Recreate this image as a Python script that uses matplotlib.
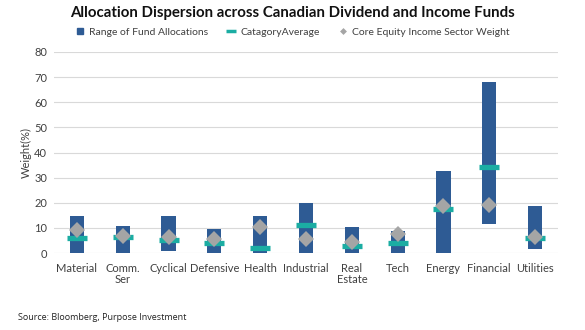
import matplotlib
matplotlib.use("Agg")
import matplotlib.pyplot as plt
from matplotlib.lines import Line2D
import numpy as np

categories = ["Material", "Comm.\nSer", "Cyclical", "Defensive", "Health", "Industrial",
              "Real\nEstate", "Tech", "Energy", "Financial", "Utilities"]
range_low = [0.0, 0.0, 0.7, 0.0, 0.0, 0.0, 0.0, 0.0, 0.0, 11.7, 1.7]
range_high = [14.8, 10.6, 14.8, 9.7, 14.8, 20.0, 10.3, 8.9, 32.8, 68.0, 18.6]
category_avg = [6.0, 6.3, 5.3, 4.0, 2.1, 11.0, 2.9, 4.0, 17.4, 34.1, 6.0]
core_weight = [9.0, 6.8, 6.2, 5.6, 10.3, 5.7, 4.4, 7.7, 18.6, 19.0, 6.2]
yticks = [0, 10, 20, 30, 40, 50, 60, 70, 80]

bar_color = "#2E5B94"
avg_color = "#1BADA3"
dia_color = "#A5A5A5"
text_color = "#404040"

plt.rcParams["font.family"] = ["Lato", "DejaVu Sans"]

fig = plt.figure(figsize=(5.85, 3.3), dpi=100)
ax = fig.add_axes([54/585, 1-253/330, 504/585, 201/330])

x = np.arange(len(categories))
low = np.array(range_low)
high = np.array(range_high)
ax.bar(x, high - low, bottom=low, width=0.31, color=bar_color, zorder=2)
ax.plot(x, category_avg, linestyle="none", marker="_", markersize=14, markeredgewidth=3.8,
        color=avg_color, zorder=3)
ax.plot(x, core_weight, linestyle="none", marker="D", markersize=8.3, color=dia_color,
        markeredgewidth=0, zorder=4)

ax.set_xlim(-0.5, len(categories) - 0.5)
ax.set_ylim(0, 80)
ax.set_yticks(yticks)
ax.set_xticks(x)
ax.set_xticklabels(categories, fontsize=8, color=text_color, linespacing=1.05)
ax.tick_params(axis="y", labelsize=8, labelcolor=text_color, length=0, pad=5)
ax.tick_params(axis="x", length=0, pad=7)
ax.yaxis.grid(True, color="#D9D9D9", linewidth=0.8, zorder=0)
ax.set_axisbelow(True)
for s in ax.spines.values():
    s.set_visible(False)
ax.set_ylabel("Weight(%)", fontsize=8, color=text_color, labelpad=0)
ax.yaxis.set_label_coords(-0.043, 0.5)

fig.text(0.5, 1-13/330, "Allocation Dispersion across Canadian Dividend and Income Funds",
         ha="center", va="center", fontsize=10.8, fontweight="bold", color="#111111")

handles = [
    Line2D([], [], linestyle="none", marker="s", markersize=5, color=bar_color),
    Line2D([], [], linestyle="none", marker="_", markersize=7, markeredgewidth=2.5, color=avg_color),
    Line2D([], [], linestyle="none", marker="D", markersize=3.5, color=dia_color, markeredgewidth=0),
]
labels = ["Range of Fund Allocations", "CatagoryAverage", "Core Equity Income Sector Weight"]
fig.legend(handles, labels, loc="center", bbox_to_anchor=(0.5, 1-32/330), ncol=3, frameon=False,
           fontsize=7.5, handlelength=0.8, handletextpad=0.5, columnspacing=1.8,
           labelcolor=text_color)

fig.text(18/585, 1-318/330, "Source: Bloomberg, Purpose Investment", ha="left", va="center",
         fontsize=6.5, color="#222222", family=["Open Sans", "DejaVu Sans"])

fig.savefig("out.png", dpi=100)
